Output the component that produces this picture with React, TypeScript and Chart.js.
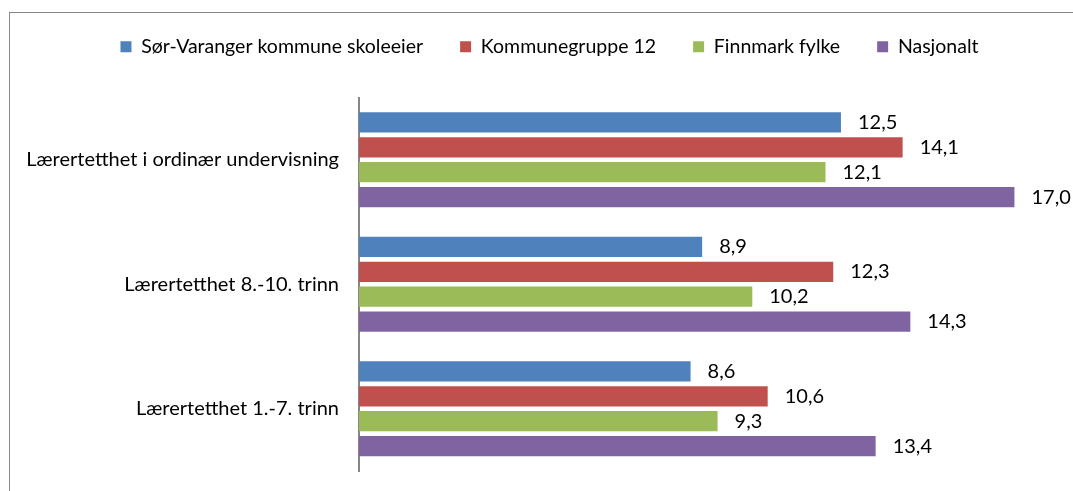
import React, { useEffect, useRef } from "react";
import { Chart, registerables } from "chart.js";

Chart.register(...registerables);

const categories = [
  "Lærertetthet i ordinær undervisning",
  "Lærertetthet 8.-10. trinn",
  "Lærertetthet 1.-7. trinn",
];
const seriesNames = [
  "Sør-Varanger kommune skoleeier",
  "Kommunegruppe 12",
  "Finnmark fylke",
  "Nasjonalt",
];
const sorVaranger = [12.5, 8.9, 8.6];
const kommunegruppe12 = [14.1, 12.3, 10.6];
const finnmark = [12.1, 10.2, 9.3];
const nasjonalt = [17.0, 14.3, 13.4];
const colors = ["#4F81BD", "#C0504D", "#9BBB59", "#8064A2"];

const FONT = "Lato, 'Open Sans', sans-serif";
const FS = 20;
const LEGEND_FS = 19.5;
const LEGEND_SHIFT = 23;

const valueLabels = {
  id: "valueLabels",
  afterDatasetsDraw(chart: any) {
    const ctx = chart.ctx;
    ctx.save();
    ctx.font = `${FS}px ${FONT}`;
    ctx.fillStyle = "#000";
    ctx.textAlign = "left";
    ctx.textBaseline = "middle";
    chart.data.datasets.forEach((ds: any, i: number) => {
      const meta = chart.getDatasetMeta(i);
      meta.data.forEach((el: any, j: number) => {
        const v = ds.data[j] as number;
        ctx.fillText(v.toFixed(1).replace(".", ","), el.x + 17, el.y);
      });
    });
    ctx.restore();
  },
};

const legendShift = {
  id: "legendShift",
  afterLayout(chart: any) {
    const lg = chart.legend;
    if (lg) {
      lg.left += LEGEND_SHIFT;
      lg.right += LEGEND_SHIFT;
    }
  },
};

export default function App() {
  const ref = useRef<HTMLCanvasElement>(null);
  useEffect(() => {
    if (!ref.current) return;
    const values = [sorVaranger, kommunegruppe12, finnmark, nasjonalt];
    const chart = new Chart(ref.current, {
      type: "bar",
      data: {
        labels: categories,
        datasets: seriesNames.map((name, i) => ({
          label: name,
          data: values[i],
          backgroundColor: colors[i],
          borderWidth: 0,
          categoryPercentage: 0.8,
          barPercentage: 0.81,
        })),
      },
      options: {
        indexAxis: "y",
        animation: false,
        responsive: false,
        maintainAspectRatio: false,
        layout: { padding: { top: 0, right: 20, bottom: 20, left: 0 } },
        plugins: {
          legend: {
            position: "top",
            align: "center",
            labels: {
              boxWidth: 11,
              boxHeight: 11,
              padding: 37,
              color: "#000",
              font: { family: FONT, size: LEGEND_FS },
            },
          },
          title: {
            display: true,
            text: " ",
            position: "top",
            weight: 500,
            font: { size: 11, lineHeight: 1 },
            padding: { top: 10, bottom: 10 },
          },
          tooltip: { enabled: false },
        },
        scales: {
          x: {
            display: false,
            min: 0,
            max: 18,
          },
          y: {
            grid: { display: false, drawTicks: false },
            border: { color: "#868686", width: 2 },
            ticks: {
              color: "#000",
              padding: 20,
              font: { family: FONT, size: FS },
            },
            afterFit: (s: any) => {
              s.width = 359;
              s.paddingTop = 0;
              s.paddingBottom = 0;
            },
          },
        },
      },
      plugins: [valueLabels, legendShift],
    });
    return () => chart.destroy();
  }, []);
  return (
    <div style={{ position: "fixed", left: 0, top: 0, width: 1073, height: 491, background: "#fff" }}>
      <div
        style={{
          position: "absolute",
          left: 9,
          top: 12,
          width: 1100,
          height: 500,
          border: "1px solid #888",
        }}
      />
      <canvas ref={ref} width={1073} height={491} style={{ position: "absolute", left: 0, top: 0 }} />
    </div>
  );
}
